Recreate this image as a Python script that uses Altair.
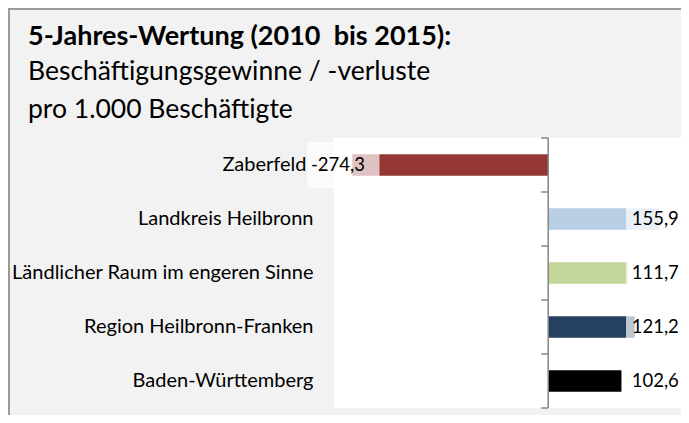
import altair as alt
import numpy as np
import pandas as pd

# ---- data ----
categories = [
    "Zaberfeld",
    "Landkreis Heilbronn",
    "Ländlicher Raum im engeren Sinne",
    "Region Heilbronn-Franken",
    "Baden-Württemberg",
]
values = [-274.3, 155.9, 111.7, 121.2, 102.6]
bar_colors = ["#953735", "#B9CDE5", "#C3D69B", "#254061", "#000000"]

title_line = "5-Jahres-Wertung (2010\u00a0 bis 2015):"
subtitle_lines = ["Beschäftigungsgewinne / -verluste", "pro 1.000 Beschäftigte"]

# ---- layout ----
W, H = 347, 270
X_MIN, X_MAX = -300, 186
PAD = {"left": 326, "top": 130, "right": 0, "bottom": 7}
FONT = "Lato"
STEP = H / len(categories)
AXIS_GRAY = "#868686"

df = pd.DataFrame({"cat": categories, "val": values})
df["label"] = [f"{v:.1f}".replace(".", ",") for v in values]
pos = df["val"] >= 0
df["bx1"] = np.where(pos, 109, df["val"] - 63)
df["bx2"] = np.where(pos, 196, df["val"] + 38)
df["tx"] = np.where(pos, 117, df["val"] - 58)

xs = alt.Scale(domain=[X_MIN, X_MAX], nice=False, zero=False)
ys = alt.Scale(domain=categories, paddingInner=0.6, paddingOuter=0.3)

y_axis = alt.Axis(
    orient="left",
    domain=False,
    ticks=False,
    labelPadding=alt.condition("datum.value === 'Zaberfeld'", alt.value(28), alt.value(21)),
    labelFont=FONT,
    labelFontSize=20,
    labelColor="#000000",
    labelLimit=0,
    grid=False,
)
y_enc = alt.Y("cat:N", scale=ys, sort=categories, title=None, axis=y_axis)

base = alt.Chart(df)

bars = base.mark_bar().encode(
    x=alt.X("val:Q", scale=xs, axis=None, stack=None),
    x2=alt.datum(0),
    y=y_enc,
    color=alt.Color("cat:N", scale=alt.Scale(domain=categories, range=bar_colors), legend=None),
)

boxes = base.mark_bar(color="white", opacity=0.7, size=46).encode(
    x=alt.X("bx1:Q", scale=xs, axis=None, stack=None),
    x2="bx2:Q",
    y=y_enc,
)

texts = base.mark_text(align="left", baseline="middle", font=FONT, fontSize=18.5, color="#000000").encode(
    x=alt.X("tx:Q", scale=xs, axis=None),
    y=y_enc,
    text="label:N",
)

one = alt.Chart(pd.DataFrame({"k": [0]}))

zero_line = one.mark_rule(color=AXIS_GRAY, strokeWidth=1.5).encode(
    x=alt.X(datum=0, scale=xs, axis=None), y=alt.value(0), y2=alt.value(H)
)
ticks_top = base.mark_rule(color=AXIS_GRAY, strokeWidth=1.5, xOffset=-7, yOffset=-STEP / 2).encode(
    x=alt.X(datum=0, scale=xs, axis=None),
    x2=alt.datum(0),
    y=y_enc,
)
ticks_bottom = (
    base.transform_filter(alt.datum.cat == categories[-1])
    .mark_rule(color=AXIS_GRAY, strokeWidth=1.5, xOffset=-7, yOffset=STEP / 2)
    .encode(
        x=alt.X(datum=0, scale=xs, axis=None),
        x2=alt.datum(0),
        y=y_enc,
    )
)

border_left = one.mark_rule(color="#9A9A9A", strokeWidth=2).encode(
    x=alt.value(-PAD["left"] + 1), y=alt.value(-PAD["top"]), y2=alt.value(H + PAD["bottom"])
)
border_top = one.mark_rule(color="#9A9A9A", strokeWidth=2).encode(
    x=alt.value(-PAD["left"]), x2=alt.value(W + PAD["right"]), y=alt.value(-PAD["top"] + 1)
)

chart = (
    alt.layer(bars, boxes, texts, zero_line, ticks_top, ticks_bottom, border_left, border_top)
    .properties(
        width=W,
        height=H,
        padding=PAD,
        autosize="none",
        background="#F2F2F2",
        title=alt.TitleParams(
            text=title_line,
            subtitle=subtitle_lines,
            anchor="start",
            frame="group",
            dx=-(PAD["left"] - 20),
            font=FONT,
            fontSize=27,
            fontWeight="bold",
            color="#000000",
            subtitleFont=FONT,
            subtitleFontSize=26.5,
            subtitleColor="#000000",
            subtitleLineHeight=38,
            subtitlePadding=8,
            offset=-117,
        ),
    )
    .configure_view(fill="white", stroke=None)
)

chart.save("out.html", embed_options={"renderer": "svg", "actions": False})
